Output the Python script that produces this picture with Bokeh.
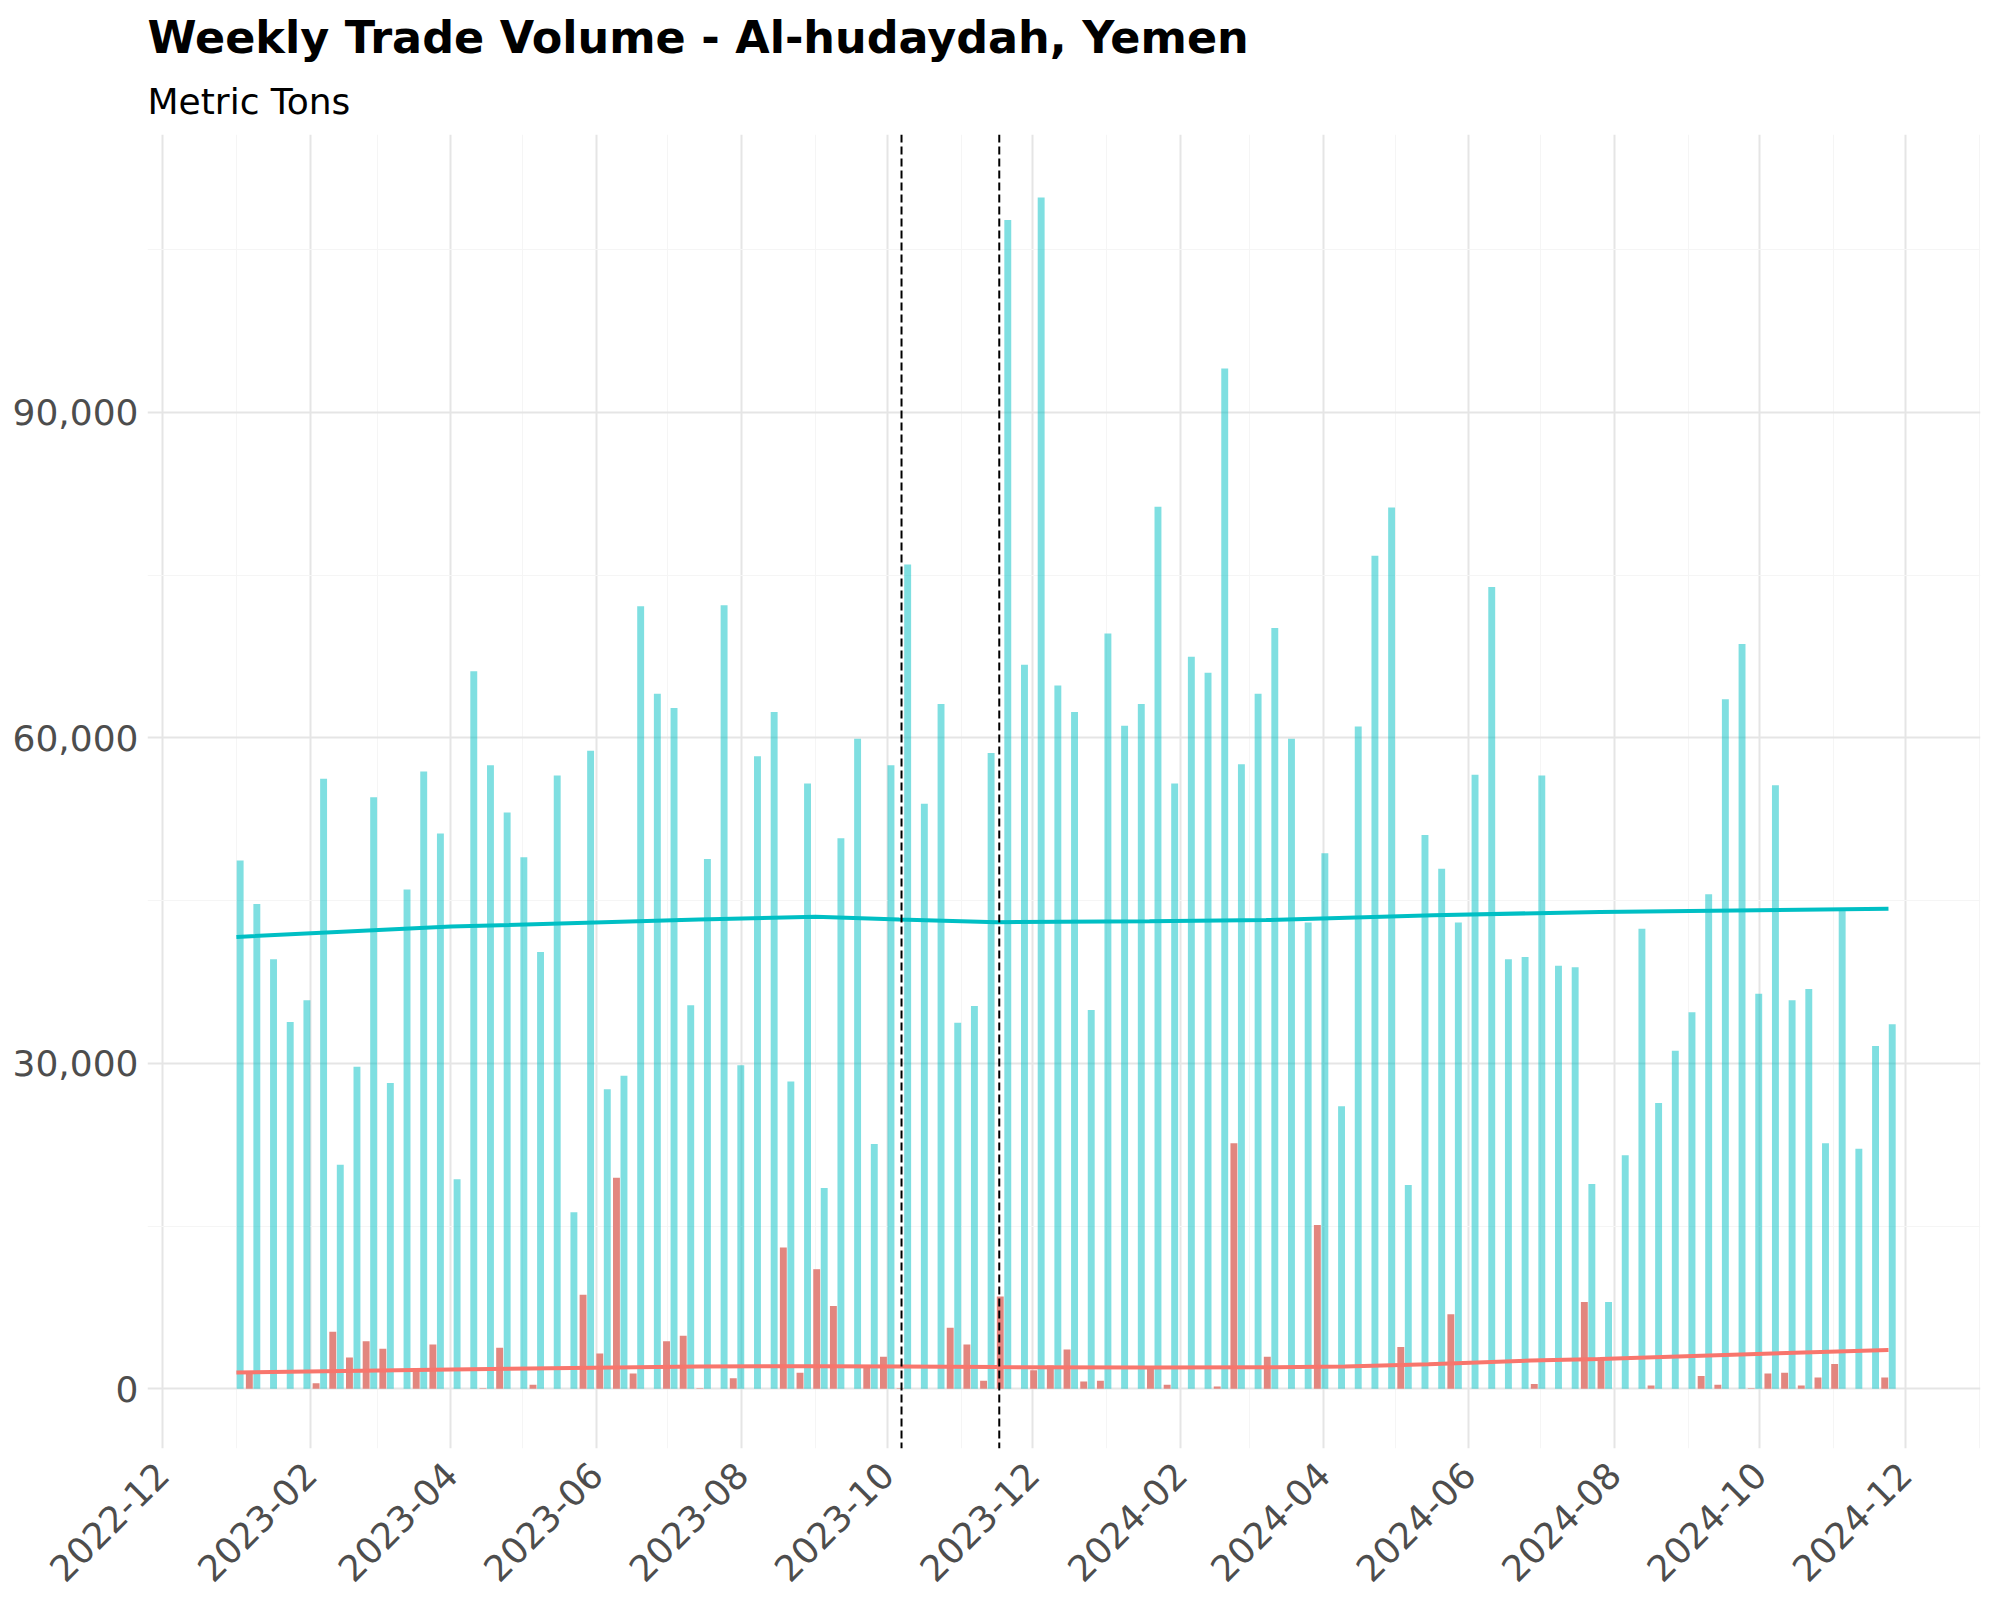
import datetime as dt
import pandas as pd
from bokeh.plotting import figure
from bokeh.models import (Range1d, FixedTicker, NumeralTickFormatter, DatetimeTickFormatter,
                          Span, Title, ColumnDataSource)
from bokeh.embed import file_html
from bokeh.resources import INLINE

# ---------------- data ----------------
first_week = "2023-01-01"
n_weeks = 100
weeks = pd.date_range(first_week, periods=n_weeks, freq="7D")

imports_t = [48680, 44680, 39580, 33810, 35810, 56230, 20640, 29670, 54520, 28190,
             46020, 56890, 51190, 19310, 66140, 57480, 53120, 48980, 40250, 56520,
             16280, 58810, 27600, 28850, 72130, 64070, 62740, 35360, 48830, 72210,
             29810, 58300, 62370, 28330, 55780, 18500, 50750, 59920, 22560, 57480,
             75980, 53930, 63110, 33740, 35290, 58590, 107720, 66730, 109790, 64810,
             62370, 34920, 69620, 61110, 63110, 81300, 55780, 67470, 65990, 94030,
             57560, 64070, 70130, 59920, 42980, 49350, 26040, 61030, 76790, 81230,
             18790, 51050, 47940, 42980, 56600, 73910, 39580, 39800, 56520, 38990,
             38840, 18870, 7990, 21530, 42390, 26340, 31150, 34700, 45570, 63550,
             68650, 36400, 55630, 35810, 36840, 22640, 44170, 22120, 31590, 33590]

exports_t = [0, 1630, 0, 0, 0, 500, 5250, 2890, 4370, 3700,
             0, 1920, 4070, 0, 0, 50, 3770, 0, 370, 0,
             0, 8660, 3260, 19460, 1400, 0, 4370, 4880, 50, 0,
             960, 0, 0, 13020, 1480, 11020, 7620, 0, 2150, 2960,
             50, 0, 0, 5620, 4070, 740, 8510, 0, 1700, 2150,
             3630, 670, 740, 0, 0, 2070, 370, 0, 0, 200,
             22640, 0, 2960, 0, 0, 15090, 0, 0, 0, 0,
             3850, 0, 0, 6880, 0, 0, 0, 0, 440, 0,
             0, 7990, 2890, 0, 0, 300, 0, 0, 1180, 370,
             0, 50, 1410, 1480, 300, 1040, 2290, 0, 0, 1040]

# smoothed trend
imp_trend_dates = ["2023-01-01", "2023-04-01", "2023-07-14", "2023-09-01", "2023-10-06",
                   "2023-11-16", "2024-01-19", "2024-03-08", "2024-05-17", "2024-07-26",
                   "2024-11-24"]
imp_trend_vals = [41650, 42600, 43250, 43500, 43250, 43000, 43100, 43200, 43650, 43950, 44250]

exp_trend_dates = ["2023-01-01", "2023-04-01", "2023-07-14", "2023-09-01", "2023-10-06",
                   "2023-11-16", "2024-01-19", "2024-03-12", "2024-04-10", "2024-05-15",
                   "2024-06-27", "2024-07-26", "2024-09-13", "2024-11-24"]
exp_trend_vals = [1500, 1780, 2050, 2080, 2050, 2000, 1960, 1980, 2050, 2250, 2600, 2750, 3100, 3580]

event_dates = ["2023-10-07", "2023-11-17"]

x_tick_dates = ["2022-12-01", "2023-02-01", "2023-04-01", "2023-06-01", "2023-08-01",
                "2023-10-01", "2023-12-01", "2024-02-01", "2024-04-01", "2024-06-01",
                "2024-08-01", "2024-10-01", "2024-12-01"]
x_minor_dates = ["2023-01-01", "2023-03-01", "2023-05-01", "2023-07-01", "2023-09-01",
                 "2023-11-01", "2024-01-01", "2024-03-01", "2024-05-01", "2024-07-01",
                 "2024-09-01", "2024-11-01", "2025-01-01"]
y_ticks = [0, 30000, 60000, 90000]
y_minor = [15000, 45000, 75000, 105000]

title_text = "Weekly Trade Volume - Al-hudaydah, Yemen"
subtitle_text = "Metric Tons"

# ---------------- helpers ----------------
DAY = 86400000.0

def ms(d):
    return pd.Timestamp(d).value / 1e6

week_ms = [ms(w) for w in weeks]
bar_w = 2.9 * DAY
off = 1.575 * DAY

src_exp = ColumnDataSource(dict(x=[w - off for w in week_ms], top=exports_t))
src_imp = ColumnDataSource(dict(x=[w + off for w in week_ms], top=imports_t))

x_start = ms("2022-12-01") - 6.29 * DAY
x_end = ms("2024-12-01") + 31.6 * DAY

p = figure(width=1992, height=1598, output_backend="svg", toolbar_location=None,
           x_axis_type="datetime",
           x_range=Range1d(x_start, x_end), y_range=Range1d(-5505, 115605),
           min_border_left=147, min_border_right=12, min_border_top=134,
           min_border_bottom=150)
p.outline_line_color = None
p.background_fill_color = "white"
p.border_fill_color = "white"

p.add_layout(Title(text=subtitle_text, text_font="DejaVu Sans", text_font_size="36px",
                   text_font_style="normal", text_color="black", align="left",
                   standoff=26), "above")
p.add_layout(Title(text=title_text, text_font="DejaVu Sans", text_font_size="44.5px",
                   text_font_style="bold", text_color="black", align="left",
                   standoff=6), "above")

# bars
p.vbar(x="x", top="top", width=bar_w, bottom=0, source=src_imp,
       fill_color="#00BFC4", fill_alpha=0.5, line_color=None)
p.vbar(x="x", top="top", width=bar_w, bottom=0, source=src_exp,
       fill_color="#E2867F", fill_alpha=1.0, line_color=None)

# trends
p.line([ms(d) for d in imp_trend_dates], imp_trend_vals, line_color="#00BFC4", line_width=4)
p.line([ms(d) for d in exp_trend_dates], exp_trend_vals, line_color="#F8766D", line_width=4)

for d in event_dates:
    p.add_layout(Span(location=ms(d), dimension="height", line_color="black",
                      line_dash="8 4", line_width=2))

# axes
xt = FixedTicker(ticks=[ms(d) for d in x_tick_dates], minor_ticks=[ms(d) for d in x_minor_dates])
p.xaxis.ticker = xt
p.xaxis.formatter = DatetimeTickFormatter(days="%Y-%m", months="%Y-%m", years="%Y-%m",
                                          hours="%Y-%m", minutes="%Y-%m", seconds="%Y-%m",
                                          milliseconds="%Y-%m", microseconds="%Y-%m", minsec="%Y-%m",
                                          hourmin="%Y-%m")
p.xaxis.major_label_orientation = 0.7854
yt = FixedTicker(ticks=y_ticks, minor_ticks=y_minor)
p.yaxis.ticker = yt
p.yaxis.formatter = NumeralTickFormatter(format="0,0")

for ax in (p.xaxis, p.yaxis):
    ax.axis_line_color = None
    ax.major_tick_line_color = None
    ax.minor_tick_line_color = None
    ax.major_label_text_font = "DejaVu Sans"
    ax.major_label_text_font_size = "36px"
    ax.major_label_text_color = "#4D4D4D"
p.yaxis.major_label_standoff = 3
p.xaxis.major_label_standoff = 14

p.xgrid.ticker = xt
p.ygrid.ticker = yt
for g in (p.xgrid, p.ygrid):
    g.grid_line_color = "#E5E5E5"
    g.grid_line_width = 2
    g.minor_grid_line_color = "#F5F5F5"
    g.minor_grid_line_width = 1

open("out.html", "w").write(file_html(p, INLINE))
